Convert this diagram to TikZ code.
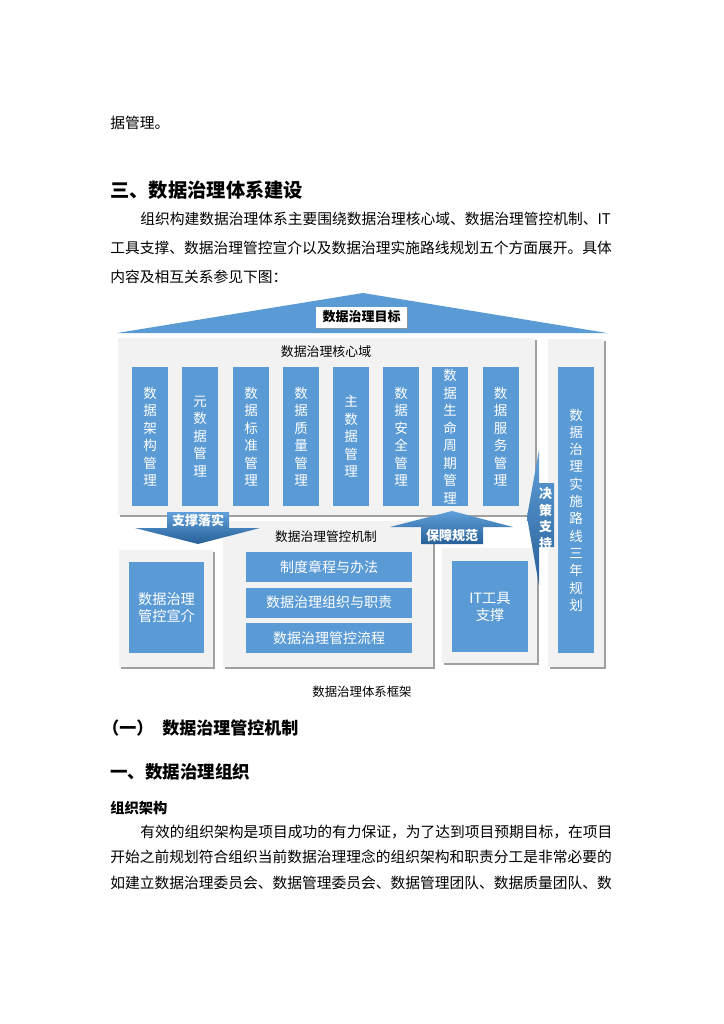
\documentclass[tikz,border=0pt]{standalone}
\usepackage{fontspec}
\setmainfont{Noto Sans CJK SC}
\usetikzlibrary{shadows}
\definecolor{pblue}{RGB}{91,155,213}
\definecolor{gbox}{RGB}{242,242,242}
\definecolor{gshadow}{RGB}{150,150,150}
\definecolor{adark}{RGB}{40,96,152}
\definecolor{alight}{RGB}{96,160,218}
\newcommand\pxfont[2]{\fontsize{\dimexpr #1pt*3/4\relax}{\dimexpr #2pt*3/4\relax}\selectfont}
\tikzset{
  txt/.style={inner sep=0pt, anchor=west, text=black},
  graybox/.style={fill=gbox, draw=none, inner sep=0pt,
    drop shadow={shadow xshift=1.3pt, shadow yshift=-1.3pt, fill=gshadow, opacity=0.9}},
  bluebox/.style={fill=pblue, draw=none, inner sep=0pt, text=white, align=center},
  pillar/.style={bluebox, minimum width=36*0.75pt, minimum height=139*0.75pt,
    font=\pxfont{13.5}{17.5}},
  bar/.style={bluebox, minimum width=166*0.75pt, minimum height=30*0.75pt, font=\pxfont{14}{17}},
  arrowfill/.style={top color=alight, bottom color=adark, draw=none},
  alabel/.style={inner sep=0pt, text=white, font=\pxfont{13}{17}\bfseries, align=center},
}
\begin{document}
\begin{tikzpicture}[x=0.75pt, y=-0.75pt]
\useasboundingbox (0,0) rectangle (724,1024);
\fill[white] (0,0) rectangle (724,1024);

% top text
\node[txt, font=\pxfont{14.75}{18}] (t0) at (110,123) {据管理。};
\node[txt, font=\pxfont{19.3}{22}\bfseries] (h3) at (110,190) {三、数据治理体系建设};
\node[txt, font=\pxfont{14.75}{18}] (p1) at (140,219) {组织构建数据治理体系主要围绕数据治理核心域、数据治理管控机制、IT};
\node[txt, font=\pxfont{14.75}{18}] (p2) at (110,248) {工具支撑、数据治理管控宣介以及数据治理实施路线规划五个方面展开。具体};
\node[txt, font=\pxfont{14.75}{18}] (p3) at (110,277) {内容及相互关系参见下图：};

% roof
\fill[pblue] (117,333) -- (363,293) -- (607,333) -- cycle;

% gray containers
\node[graybox, minimum width=417*0.75pt, minimum height=177*0.75pt] (core) at (326.5,426.5) {};
\node[graybox, minimum width=56*0.75pt, minimum height=328*0.75pt] (plan) at (576,503) {};
\node[graybox, minimum width=210*0.75pt, minimum height=146*0.75pt] (mech) at (328,594) {};
\node[graybox, minimum width=94*0.75pt, minimum height=117*0.75pt] (xuan) at (166,608.5) {};
\node[graybox, minimum width=95*0.75pt, minimum height=115*0.75pt] (it) at (489.5,605.5) {};

% goal label
\node[fill=white, draw=none, inner sep=0pt, minimum width=91*0.75pt, minimum height=21*0.75pt,
  drop shadow={shadow xshift=1pt, shadow yshift=-1pt, fill=gshadow, opacity=0.8},
  font=\pxfont{13}{16}\bfseries] (goal) at (361.5,317) {数据治理目标};

% titles
\node[inner sep=0pt, font=\pxfont{12.9}{16}] (coret) at (326,352) {数据治理核心域};
\node[inner sep=0pt, font=\pxfont{12.7}{16}] (mecht) at (326,537) {数据治理管控机制};

% pillars
\node[pillar] (c1) at (150,436.5) {数\\据\\架\\构\\管\\理};
\node[pillar] (c2) at (200,436.5) {元\\数\\据\\管\\理};
\node[pillar] (c3) at (251,436.5) {数\\据\\标\\准\\管\\理};
\node[pillar] (c4) at (301,436.5) {数\\据\\质\\量\\管\\理};
\node[pillar] (c5) at (351,436.5) {主\\数\\据\\管\\理};
\node[pillar] (c6) at (401,436.5) {数\\据\\安\\全\\管\\理};
\node[pillar] (c7) at (450,436.5) {数\\据\\生\\命\\周\\期\\管\\理};
\node[pillar] (c8) at (500.5,436.5) {数\\据\\服\\务\\管\\理};

% plan pillar
\node[bluebox, minimum width=36*0.75pt, minimum height=286*0.75pt, font=\pxfont{13.5}{17.3}] (planin) at (576,510)
  {数\\据\\治\\理\\实\\施\\路\\线\\三\\年\\规\\划};

% mechanism bars
\node[bar] (m1) at (329,567) {制度章程与办法};
\node[bar] (m2) at (329,602.5) {数据治理组织与职责};
\node[bar] (m3) at (329,638) {数据治理管控流程};

% xuan and IT inner
\node[bluebox, minimum width=75*0.75pt, minimum height=91*0.75pt, font=\pxfont{14.2}{17}] (xuanin) at (166.5,607.5) {数据治理\\管控宣介};
\node[bluebox, minimum width=76*0.75pt, minimum height=91*0.75pt, font=\pxfont{14.2}{17}] (itin) at (490,606.5) {IT工具\\支撑};

% arrows
\shade[arrowfill] (167,512) -- (229,512) -- (229,528) -- (260,528) -- (198,544) -- (135,528) -- (167,528) -- cycle;
\node[alabel] (a1) at (198,520) {支撑落实};

\shade[arrowfill] (452,511) -- (513,527) -- (483,527) -- (483,544) -- (421,544) -- (421,527) -- (390,527) -- cycle;
\node[alabel] (a2) at (452,535) {保障规范};

\shade[arrowfill] (527,517) -- (539,450) -- (539,483) -- (554,483) -- (554,547) -- (539,547) -- (539,585) -- cycle;
\node[alabel, font=\pxfont{13}{16.5}\bfseries] (a3) at (545.5,518.5) {决\\策\\支\\持};

% caption
\node[inner sep=0pt, font=\pxfont{12.4}{16}] (cap) at (362,692) {数据治理体系框架};

% lower text
\node[txt, font=\pxfont{17}{20}\bfseries] (s1a) at (102,728) {（一）};
\node[txt, font=\pxfont{17}{20}\bfseries] (s1b) at (162,728) {数据治理管控机制};
\node[txt, font=\pxfont{17.5}{20}\bfseries] (s2) at (110,772) {一、数据治理组织};
\node[txt, font=\pxfont{14.3}{18}\bfseries] (s3) at (110,808) {组织架构};
\node[txt, font=\pxfont{14.75}{18}] (q1) at (140,832) {有效的组织架构是项目成功的有力保证，为了达到项目预期目标，在项目};
\node[txt, font=\pxfont{14.75}{18}] (q2) at (110,857) {开始之前规划符合组织当前数据治理理念的组织架构和职责分工是非常必要的};
\node[txt, font=\pxfont{14.75}{18}] (q3) at (110,883) {如建立数据治理委员会、数据管理委员会、数据管理团队、数据质量团队、数};
\end{tikzpicture}
\end{document}
